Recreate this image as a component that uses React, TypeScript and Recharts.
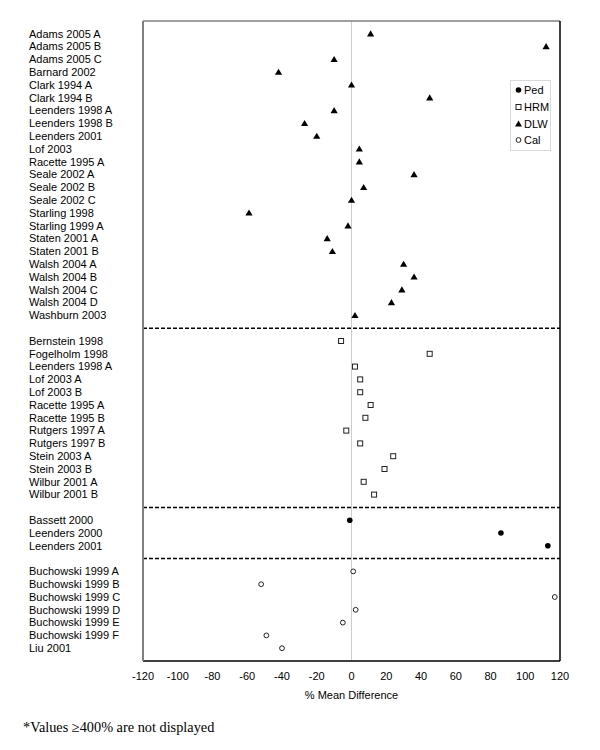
import { ScatterChart, Scatter, XAxis, YAxis, ReferenceLine, Legend } from "recharts";

// DLW studies
const dlwStudies = [
	"Adams 2005 A", "Adams 2005 B", "Adams 2005 C", "Barnard 2002", "Clark 1994 A",
	"Clark 1994 B", "Leenders 1998 A", "Leenders 1998 B", "Leenders 2001", "Lof 2003",
	"Racette 1995 A", "Seale 2002 A", "Seale 2002 B", "Seale 2002 C", "Starling 1998",
	"Starling 1999 A", "Staten 2001 A", "Staten 2001 B", "Walsh 2004 A", "Walsh 2004 B",
	"Walsh 2004 C", "Walsh 2004 D", "Washburn 2003",
];
const dlwValues = [11, 112, -10, -42, 0, 45, -10, -27, -20, 4.5, 4.5, 36, 7, 0, -59, -2, -14, -11, 30, 36, 29, 23, 2];

// HRM studies
const hrmStudies = [
	"Bernstein 1998", "Fogelholm 1998", "Leenders 1998 A", "Lof 2003 A", "Lof 2003 B",
	"Racette 1995 A", "Racette 1995 B", "Rutgers 1997 A", "Rutgers 1997 B", "Stein 2003 A",
	"Stein 2003 B", "Wilbur 2001 A", "Wilbur 2001 B",
];
const hrmValues = [-6, 45, 2, 5, 5, 11, 8, -3, 5, 24, 19, 7, 13];

// pedometer studies
const pedStudies = ["Bassett 2000", "Leenders 2000", "Leenders 2001"];
const pedValues = [-1, 86, 113];

// calorimeter studies
const calStudies = [
	"Buchowski 1999 A", "Buchowski 1999 B", "Buchowski 1999 C", "Buchowski 1999 D",
	"Buchowski 1999 E", "Buchowski 1999 F", "Liu 2001",
];
const calValues = [1, -52, 117, 2.4, -5, -49, -40];

const xTicks = [-120, -100, -80, -60, -40, -20, 0, 20, 40, 60, 80, 100, 120];
const legendOrder = ["Ped", "HRM", "DLW", "Cal"];

const FONT = "'Liberation Sans', Arial, sans-serif";

// lay out rows top to bottom, one empty row between groups
const groupOrder = [
	{ key: "DLW", studies: dlwStudies, values: dlwValues },
	{ key: "HRM", studies: hrmStudies, values: hrmValues },
	{ key: "Ped", studies: pedStudies, values: pedValues },
	{ key: "Cal", studies: calStudies, values: calValues },
];

const rowLabels: Record<number, string> = {};
const seriesData: Record<string, { x: number; y: number }[]> = {};
const separators: number[] = [];
let row = 0;
groupOrder.forEach((g, gi) => {
	seriesData[g.key] = g.studies.map((name, i) => {
		rowLabels[row + i] = name;
		return { x: g.values[i], y: row + i };
	});
	row += g.studies.length;
	if (gi < groupOrder.length - 1) {
		separators.push(row);
		row += 1;
	}
});
const lastRow = row - 1;
const yTicks = Object.keys(rowLabels).map(Number);

const Triangle = (p: any) => (
	<path d={`M${p.cx},${p.cy - 3.5}L${p.cx + 3.6},${p.cy + 2.6}L${p.cx - 3.6},${p.cy + 2.6}Z`} fill="#000" />
);
const Square = (p: any) => (
	<rect x={p.cx - 2.5} y={p.cy - 2.5} width={5} height={5} fill="#fff" stroke="#222" strokeWidth={1} />
);
const Dot = (p: any) => <circle cx={p.cx} cy={p.cy} r={2.8} fill="#000" />;
const Ring = (p: any) => <circle cx={p.cx} cy={p.cy} r={2.4} fill="#fff" stroke="#222" strokeWidth={1} />;

const shapes: Record<string, (p: any) => any> = { Ped: Dot, HRM: Square, DLW: Triangle, Cal: Ring };

const StudyTick = ({ y, payload }: any) => (
	<text x={21} y={y} dy="0.35em" fontSize={11} fontFamily={FONT} fill="#000" textAnchor="start">
		{rowLabels[payload.value]}
	</text>
);

const LegendBox = () => (
	<div style={{ border: "1px solid #d9d9d9", padding: "1px 1px 1px 4px", fontFamily: FONT, fontSize: 11, background: "#fff" }}>
		{legendOrder.map((name) => {
			const Shape = shapes[name];
			return (
				<div key={name} style={{ display: "flex", alignItems: "center", height: 16.7 }}>
					<svg width={7} height={10} style={{ marginRight: 2 }}>
						<Shape cx={3.5} cy={5} />
					</svg>
					<span>{name}</span>
				</div>
			);
		})}
	</div>
);

export default function App() {
	return (
		<div style={{ width: 592 }}>
			<ScatterChart width={592} height={703} margin={{ top: 13, right: 40, bottom: 0, left: 0 }}>
				<XAxis
					type="number"
					dataKey="x"
					domain={[-120, 120]}
					ticks={xTicks}
					interval={0}
					tickLine={false}
					tickMargin={5}
					axisLine={{ stroke: "#000", strokeWidth: 1.5 }}
					tick={{ fontSize: 11, fill: "#000", fontFamily: FONT }}
					height={50}
					allowDataOverflow
					label={{ value: "% Mean Difference", position: "insideBottom", offset: 12, fontSize: 11, fill: "#000", fontFamily: FONT }}
				/>
				<YAxis
					type="number"
					dataKey="y"
					domain={[-1, lastRow + 1]}
					reversed
					ticks={yTicks}
					interval={0}
					tickLine={false}
					axisLine={{ stroke: "#808080", strokeWidth: 2 }}
					tick={StudyTick}
					width={135}
				/>
				<ReferenceLine x={0} stroke="#cccccc" strokeWidth={1} />
				<ReferenceLine y={-1} stroke="#808080" strokeWidth={1.5} />
				<ReferenceLine x={120} stroke="#000" strokeWidth={1.5} />
				{separators.map((s) => (
					<ReferenceLine key={s} y={s} stroke="#000" strokeWidth={1.5} strokeDasharray="4 2" />
				))}
				<Legend
					layout="vertical"
					align="center"
					verticalAlign="middle"
					wrapperStyle={{ top: 72, left: 502, width: "auto" }}
					content={LegendBox}
				/>
				<Scatter name="Ped" data={seriesData.Ped} shape={Dot} isAnimationActive={false} />
				<Scatter name="HRM" data={seriesData.HRM} shape={Square} isAnimationActive={false} />
				<Scatter name="DLW" data={seriesData.DLW} shape={Triangle} isAnimationActive={false} />
				<Scatter name="Cal" data={seriesData.Cal} shape={Ring} isAnimationActive={false} />
			</ScatterChart>
			<div style={{ fontFamily: "'Liberation Serif', 'Times New Roman', serif", fontSize: 14.3, marginLeft: 15, marginTop: 8, lineHeight: "16px" }}>
				*Values ≥400% are not displayed
			</div>
		</div>
	);
}
